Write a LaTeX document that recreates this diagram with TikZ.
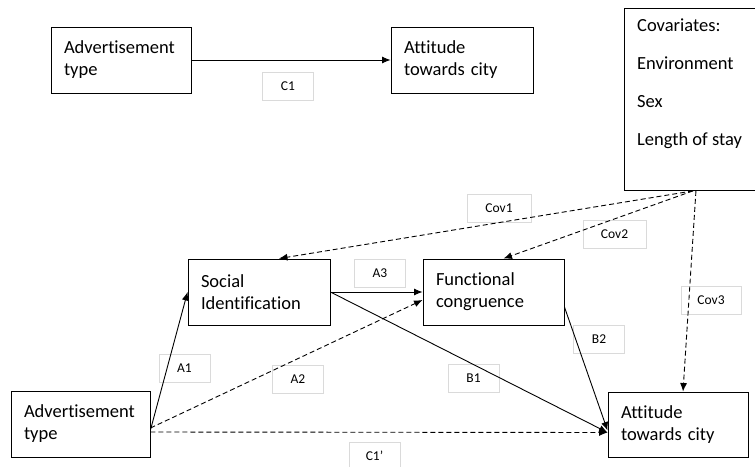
\documentclass[tikz,border=0pt]{standalone}
\usepackage{fontspec}
\setmainfont{Carlito}[Ligatures=NoCommon]
\usetikzlibrary{arrows.meta}

\definecolor{lblgray}{HTML}{DADADA}

\begin{document}
\begin{tikzpicture}[
    x=1pt, y=-1pt,
    arr/.style={-{Latex[length=8.5pt, width=7pt]}, line width=0.9pt, black},
    darr/.style={arr, dash pattern=on 5pt off 3pt},
    box/.style={draw, line width=0.9pt, align=left, text width=#1,
        inner xsep=13pt, minimum height=66pt,
        font=\fontsize{18.5}{22}\selectfont},
    lbl/.style={draw=lblgray, line width=0.6pt, minimum width=51pt,
        minimum height=28pt, inner sep=0pt,
        font=\fontsize{13.5}{15}\selectfont},
]
\useasboundingbox (0,0) rectangle (755,466);

% --- Direct effect (top) ---
\node[box=114pt] (adtop) at (121,60) {Advertisement\\type};
\node[box=116pt] (atttop) at (462,60) {Attitude\\towards city};
\node[lbl] (c1) at (288,86) {C1};

\draw[arr] (adtop.east) -- (atttop.west);

% --- Covariates ---
\node[draw, line width=0.9pt, minimum width=141pt, minimum height=182pt,
      anchor=north west, inner sep=0pt]
    (cov) at (624,8) {};
\node[anchor=north west, align=left, inner sep=0pt,
      font=\fontsize{18.5}{22}\selectfont]
    (covtxt) at (637,19)
    {Covariates:\\[16pt]Environment\\[16pt]Sex\\[16pt]Length of stay};

% --- Mediation model (bottom) ---
\node[box=116pt] (soc) at (259,292) {Social\\Identification};
\node[box=115pt] (fun) at (493.5,292) {Functional\\congruence};
\node[box=114pt, minimum height=65pt] (attbot) at (678,424.5)
    {Attitude\\towards city};
\node[box=113pt] (adbot) at (80.5,424) {Advertisement\\type};

% Path labels
\node[lbl, minimum width=64pt] (cov1) at (499,208) {Cov1};
\node[lbl, minimum width=63pt] (cov2) at (614.5,234.5) {Cov2};
\node[lbl, minimum width=60pt] (cov3) at (711,300.5) {Cov3};
\node[lbl] (a1) at (184.5,368) {A1};
\node[lbl] (a2) at (298,379) {A2};
\node[lbl] (a3) at (380,273) {A3};
\node[lbl] (b1) at (473.5,378) {B1};
\node[lbl] (b2) at (599,339) {B2};
\node[lbl] (c1p) at (374.5,456) {C1’};

% Paths
\draw[arr] ([yshift=-6pt]adbot.east) -- (soc.west);
\draw[darr] ([yshift=-4pt]adbot.east) -- ([yshift=-8pt]fun.west);
\draw[darr] ([yshift=-8pt]adbot.east) -- ([yshift=-8pt]attbot.west);
\draw[arr] (soc.east) -- (fun.west);
\draw[arr] (soc.east) -- ([yshift=-8pt]attbot.west);
\draw[arr] ([yshift=-15pt]fun.east) -- ([yshift=-6pt]attbot.west);

% Covariate paths
\draw[darr] ([xshift=-2pt]cov.south) -- ([xshift=20pt]soc.north);
\draw[darr] ([xshift=-2pt]cov.south) -- ([xshift=10pt]fun.north);
\draw[darr] ([xshift=1pt]cov.south) -- ([xshift=5pt]attbot.north);

\end{tikzpicture}
\end{document}
